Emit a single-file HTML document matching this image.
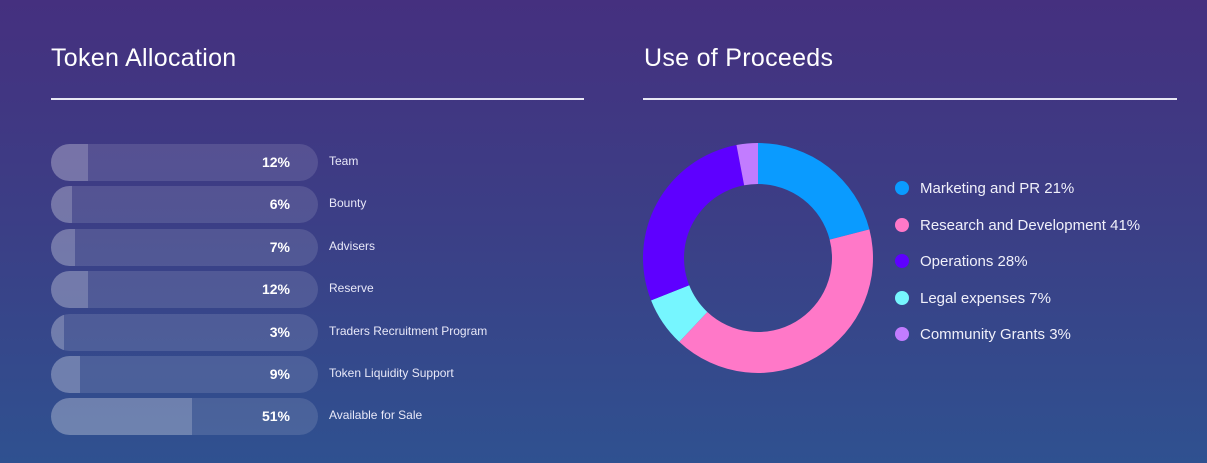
<!DOCTYPE html>
<html><head><meta charset="utf-8"><style>
body{margin:0;width:1207px;height:463px;overflow:hidden;background:linear-gradient(180deg,#45307f 0%,#3b3f86 50%,#2f5190 100%);font-family:"Liberation Sans",sans-serif;color:#fff;position:relative}
.t{position:absolute;font-size:25px;top:44px;letter-spacing:0.3px}
.hr{position:absolute;top:98px;height:2px;background:#e8e8f4}
.track{position:absolute;left:51px;width:267px;height:37px;border-radius:18.5px;background:rgba(255,255,255,0.12);overflow:hidden}
.fill{position:absolute;left:0;top:0;bottom:0;background:rgba(255,255,255,0.2)}
.pct{position:absolute;right:28px;top:0;line-height:37px;font-weight:bold;font-size:14px}
.lab{position:absolute;left:329px;font-size:12px;color:#e8e8f8}
.leg{position:absolute;left:920px;font-size:15px;color:#f0f0fa}
.dot{position:absolute;left:895px;width:14px;height:14px;border-radius:50%}
</style></head><body>
<div class="t" style="left:51px">Token Allocation</div>
<div class="hr" style="left:51px;width:533px"></div>
<div class="t" style="left:644px">Use of Proceeds</div>
<div class="hr" style="left:643px;width:534px"></div>
<div id="bars"></div>
<svg id="donut" width="1207" height="463" style="position:absolute;left:0;top:0"></svg>
<div id="legend"></div>
<script>
const allocLabels=["Team","Bounty","Advisers","Reserve","Traders Recruitment Program","Token Liquidity Support","Available for Sale"];
const allocValues=[12,6,7,12,3,9,51];
const proceedLabels=["Marketing and PR","Research and Development","Operations","Legal expenses","Community Grants"];
const proceedValues=[21,41,28,7,3];
const proceedColors=["#0a9bff","#ff78c8","#5e00ff","#76f6ff","#c27cff"];
const sliceOrder=[0,1,3,2,4];

const bars=document.getElementById('bars');
allocValues.forEach((v,i)=>{
  const y=144+i*42.4;
  const tr=document.createElement('div');tr.className='track';tr.style.top=y+'px';
  
  
  const f=document.createElement('div');f.className='fill';f.style.width=(5+v*2.67)+'px';
  
  
  const p=document.createElement('div');p.className='pct';p.textContent=v+'%';
  
  
  tr.appendChild(f);tr.appendChild(p);bars.appendChild(tr);
  const l=document.createElement('div');l.className='lab';l.style.top=(y+10)+'px';l.textContent=allocLabels[i];
  
  
  bars.appendChild(l);
});

const svg=document.getElementById('donut');const NS='http://www.w3.org/2000/svg';
const cx=758,cy=258,R=115,r=74;
const total=proceedValues.reduce((a,b)=>a+b,0);
let a0=0;
sliceOrder.forEach(i=>{
  const v=proceedValues[i];
  const a1=a0+v/total*2*Math.PI;
  const pt=(rad,a)=>[cx+rad*Math.sin(a),cy-rad*Math.cos(a)];
  const large=(a1-a0)>Math.PI?1:0;
  const [x1,y1]=pt(R,a0),[x2,y2]=pt(R,a1),[x3,y3]=pt(r,a1),[x4,y4]=pt(r,a0);
  const path=document.createElementNS(NS,'path');
  path.setAttribute('d',`M${x1},${y1}A${R},${R} 0 ${large} 1 ${x2},${y2}L${x3},${y3}A${r},${r} 0 ${large} 0 ${x4},${y4}Z`);
  path.setAttribute('fill',proceedColors[i]);
  
  
  svg.appendChild(path);a0=a1;
});

const leg=document.getElementById('legend');
proceedLabels.forEach((l,i)=>{
  const y=188+i*36.5;
  const d=document.createElement('div');d.className='dot';d.style.top=(y-7)+'px';d.style.background=proceedColors[i];
  
  
  const t=document.createElement('div');t.className='leg';t.style.top=(y-8)+'px';t.textContent=l+' '+proceedValues[i]+'%';
  
  
  leg.appendChild(d);leg.appendChild(t);
});
</script>
</body></html>
